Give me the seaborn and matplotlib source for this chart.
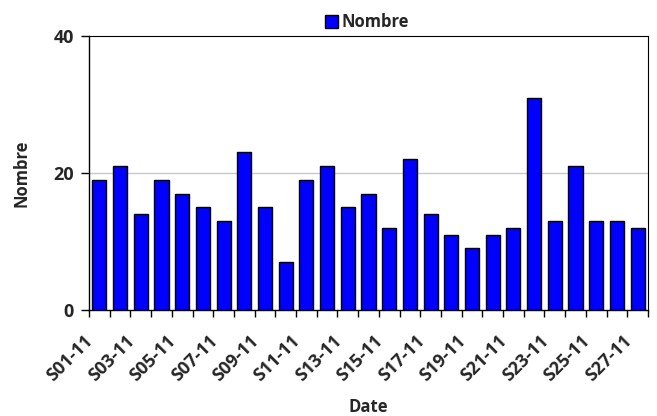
import matplotlib
matplotlib.use("Agg")
import matplotlib.pyplot as plt
import matplotlib.transforms as mtransforms
import seaborn as sns
import pandas as pd
import numpy as np

weeks = [f"S{i:02d}-11" for i in range(1, 28)]
nombre = [19, 21, 14, 19, 17, 15, 13, 23, 15, 7, 19, 21, 15, 17, 12,
          22, 14, 11, 9, 11, 12, 31, 13, 21, 13, 13, 12]
y_ticks = [0, 20, 40]

sns.set_theme(style="white")
plt.rcParams["font.family"] = ["Open Sans", "DejaVu Sans"]
plt.rcParams["font.weight"] = "bold"

FS = 12
TICK_FS = 13

df = pd.DataFrame({"Date": weeks, "Nombre": nombre})

fig = plt.figure(figsize=(6.57, 4.16), dpi=100)
ax = fig.add_axes([89 / 657, 106 / 416, 559 / 657, 274 / 416])

sns.barplot(data=df, x="Date", y="Nombre", color="#0000FF", saturation=1,
            width=0.68, edgecolor="black", linewidth=1.0, label="Nombre", ax=ax)

n = len(weeks)
ax.set_xlim(-0.5, n - 0.5)
ax.set_ylim(0, 40)

# y axis: ticks, single grid line at 20
ax.set_yticks(y_ticks)
ax.set_yticklabels([str(v) for v in y_ticks], fontsize=TICK_FS, fontweight="bold")
ax.tick_params(axis="y", direction="out", length=6, width=1, color="black", pad=5, left=True)
for v in y_ticks[1:-1]:
    ax.axhline(v, color="#c8c8c8", linewidth=1, zorder=0)

# x axis: tick marks at category boundaries, labels on every other week
ax.set_xticks(np.arange(n + 1) - 0.5, minor=True)
ax.tick_params(axis="x", which="minor", direction="out", length=5, width=1, color="black", bottom=True)
label_pos = list(range(0, n, 2))
ax.set_xticks(label_pos)
ax.set_xticklabels([weeks[i] for i in label_pos], rotation=45, ha="right", va="center",
                   rotation_mode="anchor", fontsize=TICK_FS, fontweight="bold")
ax.tick_params(axis="x", which="major", length=0, pad=20)
shift = mtransforms.ScaledTranslation(-9 / 100, 0, fig.dpi_scale_trans)
for lbl in ax.get_xticklabels():
    lbl.set_transform(lbl.get_transform() + shift)

for side in ["left", "bottom", "top", "right"]:
    ax.spines[side].set_visible(True)
    ax.spines[side].set_color("black")
    ax.spines[side].set_linewidth(1)
ax.spines["top"].set_linewidth(0.8)
ax.spines["right"].set_linewidth(0.8)

ax.set_xlabel("Date", fontsize=FS, fontweight="bold")
ax.set_ylabel("Nombre", fontsize=FS, fontweight="bold")
ax.xaxis.set_label_coords(0.5, -0.32)
ax.yaxis.set_label_coords(-0.104, 0.5)

leg = ax.legend(loc="upper center", bbox_to_anchor=(0.559, 1.0), bbox_transform=fig.transFigure,
                frameon=False, handlelength=0.75, handleheight=0.75, handletextpad=0.25,
                borderpad=0.3, prop={"size": FS, "weight": "bold"})

fig.savefig("out.png", dpi=100, facecolor="white")
